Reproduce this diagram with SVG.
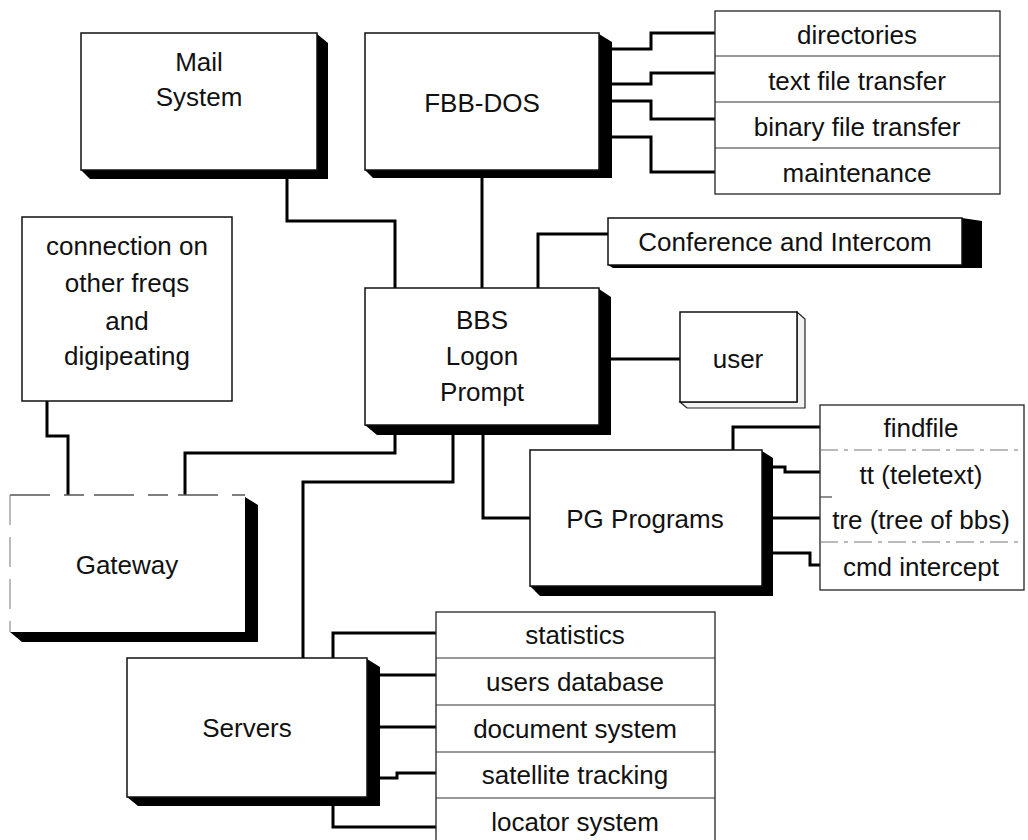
<svg xmlns="http://www.w3.org/2000/svg" width="1028" height="840" viewBox="0 0 1028 840">
<style>
.box{fill:#fff;stroke:#111;stroke-width:1.5}
.sh{fill:#000}
.lst{fill:#fff;stroke:#222;stroke-width:1.3}
.div{stroke:#333;stroke-width:1.2}
.fd{stroke:#777;stroke-width:1.2;stroke-dasharray:18 6 4 6}
.c{fill:none;stroke:#000;stroke-width:3}
text{font-family:"Liberation Sans",Arial,sans-serif;font-size:26px;fill:#111;text-anchor:middle}
</style>
<rect width="1028" height="840" fill="#fff"/>
<g id="connectors">
<polyline class="c" points="287,179 287,221 395,221 395,288"/>
<polyline class="c" points="482,178 482,288"/>
<polyline class="c" points="538,288 538,234 608,234"/>
<polyline class="c" points="612,49 651,49 651,33 715,33"/>
<polyline class="c" points="612,84 651,84 651,73 715,73"/>
<polyline class="c" points="612,101 651,101 651,119 715,119"/>
<polyline class="c" points="612,137 651,137 651,172 715,172"/>
<polyline class="c" points="611,359 680,359"/>
<polyline class="c" points="47,401 47,436 68,436 68,495"/>
<polyline class="c" points="395,435 395,453 185,453 185,495"/>
<polyline class="c" points="453,435 453,482 303,482 303,658"/>
<polyline class="c" points="483,435 483,518 530,518"/>
<polyline class="c" points="733,450 733,427 820,427"/>
<polyline class="c" points="773,467 785,467 785,472 820,472"/>
<polyline class="c" points="773,518 820,518"/>
<polyline class="c" points="773,553 810,553 810,565 820,565"/>
<polyline class="c" points="333,658 333,633 436,633"/>
<polyline class="c" points="380,675 436,675"/>
<polyline class="c" points="380,727 436,727"/>
<polyline class="c" points="380,778 397,778 397,773 436,773"/>
<polyline class="c" points="333,806 333,827 436,827"/>
</g>
<g id="mail">
<polygon class="sh" points="317,34 328,43 328,179 90,179 81,170 317,170"/>
<rect class="box" x="81" y="33" width="236" height="137"/>
<text x="199" y="71">Mail</text>
<text x="199" y="106">System</text>
</g>
<g id="fbbdos">
<polygon class="sh" points="599,34 612,42 612,178 373,178 365,170 599,170"/>
<rect class="box" x="365" y="33" width="234" height="137"/>
<text x="482" y="112">FBB-DOS</text>
</g>
<g id="fbb-list">
<rect class="lst" x="715" y="11" width="285" height="183"/>
<line class="div" x1="715" y1="56" x2="1000" y2="56"/>
<line class="div" x1="715" y1="102" x2="1000" y2="102"/>
<line class="div" x1="715" y1="148" x2="1000" y2="148"/>
<text x="857" y="44">directories</text>
<text x="857" y="90">text file transfer</text>
<text x="857" y="136">binary file transfer</text>
<text x="857" y="182">maintenance</text>
</g>
<g id="conference">
<polygon class="sh" points="962,218 982,221 982,268 613,268 608,265 962,265"/>
<rect class="box" x="608" y="218" width="354" height="47"/>
<text x="785" y="251">Conference and Intercom</text>
</g>
<g id="connection">
<rect class="box" x="22" y="217" width="210" height="184"/>
<text x="127" y="255">connection on</text>
<text x="127" y="292">other freqs</text>
<text x="127" y="330">and</text>
<text x="127" y="365">digipeating</text>
</g>
<g id="bbs">
<polygon class="sh" points="599,289 611,297 611,435 377,435 365,425 599,425"/>
<rect class="box" x="365" y="288" width="234" height="137"/>
<text x="482" y="329">BBS</text>
<text x="482" y="365">Logon</text>
<text x="482" y="401">Prompt</text>
</g>
<g id="user">
<polygon points="797,312 805,319 805,408 687,408 680,402 797,402" fill="#f2f2f2" stroke="#222" stroke-width="1.2"/>
<rect class="box" x="680" y="312" width="117" height="90"/>
<text x="738" y="368">user</text>
</g>
<g id="gateway">
<polygon class="sh" points="245,497 258,505 258,642 22,642 10,632 245,632"/>
<rect x="10" y="495" width="235" height="137" fill="#fff"/>
<line x1="10" y1="495" x2="245" y2="495" stroke="#555" stroke-width="1.3" stroke-dasharray="40 14 20 10"/>
<line x1="10" y1="495" x2="10" y2="632" stroke="#777" stroke-width="1" stroke-dasharray="30 12"/>
<text x="127" y="574">Gateway</text>
</g>
<g id="pg">
<polygon class="sh" points="762,451 773,458 773,596 540,596 530,586 762,586"/>
<rect class="box" x="530" y="450" width="232" height="136"/>
<text x="645" y="528">PG Programs</text>
</g>
<g id="pg-list">
<rect class="lst" x="820" y="405" width="204" height="185"/>
<line class="fd" x1="820" y1="450" x2="1024" y2="450"/>
<line x1="820" y1="497" x2="832" y2="497" stroke="#444" stroke-width="1.2"/>
<line class="fd" x1="820" y1="542" x2="1024" y2="542"/>
<text x="921" y="437">findfile</text>
<text x="921" y="484">tt (teletext)</text>
<text x="921" y="529">tre (tree of bbs)</text>
<text x="921" y="576">cmd intercept</text>
</g>
<g id="servers">
<polygon class="sh" points="367,659 380,667 380,806 138,806 127,797 367,797"/>
<rect class="box" x="127" y="658" width="240" height="139"/>
<text x="247" y="737">Servers</text>
</g>
<g id="servers-list">
<rect class="lst" x="436" y="612" width="279" height="234"/>
<line class="div" x1="436" y1="658" x2="715" y2="658"/>
<line class="div" x1="436" y1="705" x2="715" y2="705"/>
<line class="div" x1="436" y1="752" x2="715" y2="752"/>
<line class="div" x1="436" y1="798" x2="715" y2="798"/>
<text x="575" y="644">statistics</text>
<text x="575" y="691">users database</text>
<text x="575" y="738">document system</text>
<text x="575" y="784">satellite tracking</text>
<text x="575" y="831">locator system</text>
</g>
</svg>
